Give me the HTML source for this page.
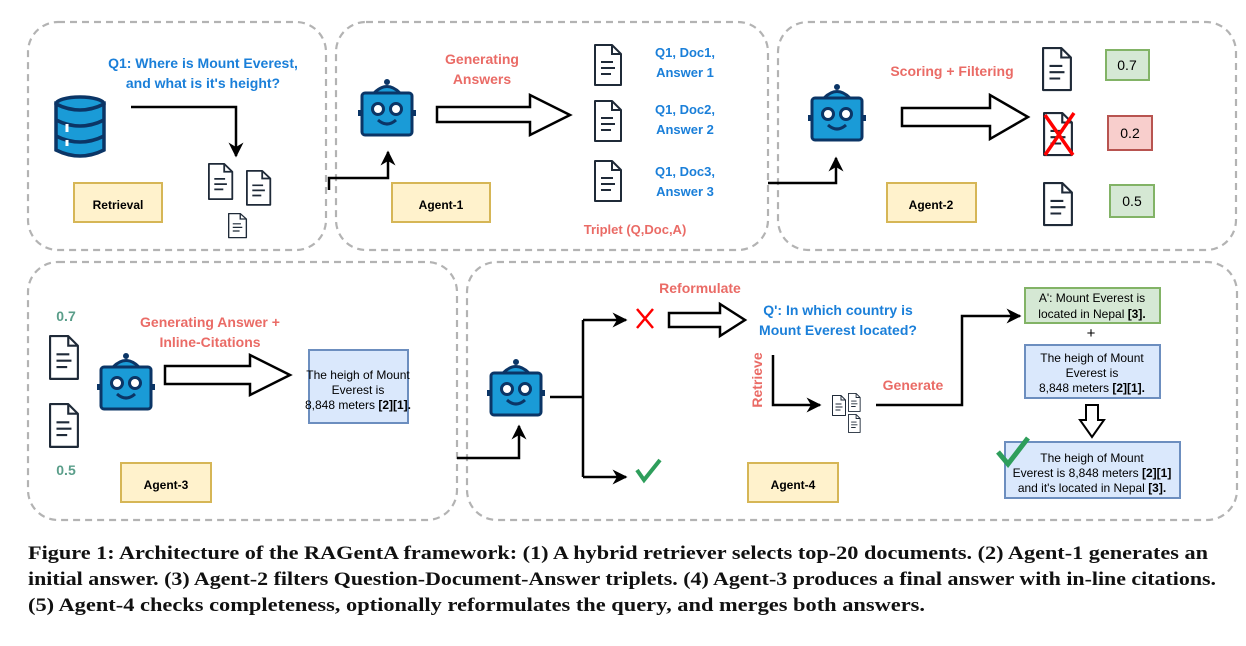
<!DOCTYPE html>
<html><head><meta charset="utf-8"><style>
html,body{margin:0;padding:0;background:#fff;}
svg{display:block;font-family:"Liberation Sans",Arial,sans-serif;}
.pan{fill:none;stroke:#b3b3b3;stroke-width:2.2;stroke-dasharray:7 5;}
.yb{fill:#fff2cc;stroke:#d6b656;stroke-width:2;}
.lb{font-size:12px;font-weight:bold;fill:#000;text-anchor:middle;}
.bl{font-size:14px;font-weight:bold;fill:#1a7fd9;text-anchor:middle;}
.rd{font-size:14px;font-weight:bold;fill:#ea6b66;text-anchor:middle;}
.ln{fill:none;stroke:#000;stroke-width:2.5;}
.ha{fill:#fff;stroke:#000;stroke-width:2.5;stroke-linejoin:miter;}
.tx{font-size:12px;fill:#000;text-anchor:middle;}
.cap{font-family:"Liberation Serif",serif;font-size:19px;font-weight:bold;fill:#111;}
</style></head><body>
<svg width="1246" height="646" viewBox="0 0 1246 646" xmlns="http://www.w3.org/2000/svg">
<defs>
<g id="robot">
<circle cx="29" cy="4" r="3" fill="#0b3566"/>
<path d="M16 15 Q29 2 42 15" fill="#1a9bd7" stroke="#0b3566" stroke-width="3"/>
<rect x="0" y="32" width="5" height="6" fill="#0b3566"/>
<rect x="53" y="32" width="5" height="6" fill="#0b3566"/>
<rect x="4" y="15" width="50" height="42" rx="3" fill="#1a9bd7" stroke="#0b3566" stroke-width="3"/>
<circle cx="20" cy="31" r="5.5" fill="#fff" stroke="#0b3566" stroke-width="3"/>
<circle cx="38" cy="31" r="5.5" fill="#fff" stroke="#0b3566" stroke-width="3"/>
<path d="M20 42 Q29 50 38 42" fill="none" stroke="#0b3566" stroke-width="3"/>
</g>
<g id="doc">
<path d="M1 1 H18 L27 10 V41 H1 Z" fill="#fff" stroke="#1f2a38" stroke-width="2" stroke-linejoin="round"/>
<path d="M18 1 V10 H27" fill="none" stroke="#1f2a38" stroke-width="2"/>
<path d="M7 18 H19 M7 24 H21 M7 30 H17" stroke="#1f2a38" stroke-width="2"/>
</g>
<marker id="ah" viewBox="0 0 10 10" refX="9" refY="5" markerWidth="6" markerHeight="6" orient="auto" markerUnits="strokeWidth">
<path d="M0 0 L10 5 L0 10 L3 5 Z" fill="#000"/>
</marker>
</defs>

<rect class="pan" x="28" y="22" width="298" height="228" rx="30"/>
<rect class="pan" x="336" y="22" width="432" height="228" rx="30"/>
<rect class="pan" x="778" y="22" width="458" height="228" rx="30"/>
<rect class="pan" x="28" y="262" width="429" height="258" rx="30"/>
<rect class="pan" x="467" y="262" width="770" height="258" rx="30"/>

<text class="bl" x="203" y="68">Q1: Where is Mount Everest,</text>
<text class="bl" x="203" y="88">and what is it's height?</text>
<g transform="translate(55,96)">
<ellipse cx="25" cy="8" rx="24" ry="7" fill="#1a9bd7" stroke="#0b3566" stroke-width="3.5"/>
<path d="M1 8 V54 Q25 66 49 54 V8 Q25 20 1 8 Z" fill="#1a9bd7" stroke="#0b3566" stroke-width="3.5"/>
<path d="M1 24 Q25 36 49 24 M1 40 Q25 52 49 40" fill="none" stroke="#0b3566" stroke-width="3.5"/>
<path d="M12 28 V36 M12 44 V50" stroke="#fff" stroke-width="3"/>
</g>
<path class="ln" d="M131 107 H236 V156" marker-end="url(#ah)"/>
<use href="#doc" transform="translate(208,163) scale(0.9,0.88)"/>
<use href="#doc" transform="translate(246,170) scale(0.9,0.85)"/>
<use href="#doc" transform="translate(228,213) scale(0.68,0.6)"/>
<rect class="yb" x="74" y="183" width="88" height="39"/>
<text class="lb" x="118" y="209">Retrieval</text>

<path class="ln" d="M329 190 V178 H388 V152" marker-end="url(#ah)"/>

<use href="#robot" transform="translate(358,78)"/>
<text class="rd" x="482" y="64">Generating</text>
<text class="rd" x="482" y="84">Answers</text>
<path class="ha" d="M437 107 H530 V95 L570 115 L530 135 V122 H437 Z"/>
<use href="#doc" transform="translate(594,44)"/>
<use href="#doc" transform="translate(594,100)"/>
<use href="#doc" transform="translate(594,160)"/>
<text class="bl" x="685" y="57" style="font-size:13px">Q1, Doc1,</text>
<text class="bl" x="685" y="77" style="font-size:13px">Answer 1</text>
<text class="bl" x="685" y="114" style="font-size:13px">Q1, Doc2,</text>
<text class="bl" x="685" y="134" style="font-size:13px">Answer 2</text>
<text class="bl" x="685" y="176" style="font-size:13px">Q1, Doc3,</text>
<text class="bl" x="685" y="196" style="font-size:13px">Answer 3</text>
<text class="rd" x="635" y="234" style="font-size:13px">Triplet (Q,Doc,A)</text>
<rect class="yb" x="392" y="183" width="98" height="39"/>
<text class="lb" x="441" y="209">Agent-1</text>

<path class="ln" d="M768 183 H836 V158" marker-end="url(#ah)"/>

<use href="#robot" transform="translate(808,83)"/>
<text class="rd" x="952" y="76">Scoring + Filtering</text>
<path class="ha" d="M902 108 H990 V95 L1028 117 L990 139 V126 H902 Z"/>
<use href="#doc" transform="translate(1042,47) scale(1.07,1.05)"/>
<use href="#doc" transform="translate(1043,112) scale(1.07,1.05)"/>
<path d="M1045 115 L1073 155 M1074 113 L1045 155" stroke="#f00" stroke-width="3.5"/>
<use href="#doc" transform="translate(1043,182) scale(1.07,1.05)"/>
<rect x="1106" y="50" width="43" height="30" fill="#d5e8d4" stroke="#82b366" stroke-width="2"/>
<text class="tx" x="1127" y="70" style="font-size:14px">0.7</text>
<rect x="1108" y="116" width="44" height="34" fill="#f8cecc" stroke="#b85450" stroke-width="2"/>
<text class="tx" x="1130" y="138" style="font-size:14px">0.2</text>
<rect x="1110" y="185" width="44" height="32" fill="#d5e8d4" stroke="#82b366" stroke-width="2"/>
<text class="tx" x="1132" y="206" style="font-size:14px">0.5</text>
<rect class="yb" x="887" y="183" width="89" height="39"/>
<text class="lb" x="931" y="209">Agent-2</text>

<text x="66" y="321" style="font-size:14px;font-weight:bold;fill:#5a9e8a" text-anchor="middle">0.7</text>
<use href="#doc" transform="translate(49,335) scale(1.07,1.07)"/>
<use href="#doc" transform="translate(49,403) scale(1.07,1.07)"/>
<text x="66" y="475" style="font-size:14px;font-weight:bold;fill:#5a9e8a" text-anchor="middle">0.5</text>
<text class="rd" x="210" y="327">Generating Answer +</text>
<text class="rd" x="210" y="347">Inline-Citations</text>
<use href="#robot" transform="translate(97,352)"/>
<path class="ha" d="M165 366 H250 V355 L290 375 L250 395 V384 H165 Z"/>
<rect x="309" y="350" width="99" height="73" fill="#dae8fc" stroke="#6c8ebf" stroke-width="2"/>
<text class="tx" x="358" y="379">The heigh of Mount</text>
<text class="tx" x="358" y="394">Everest is</text>
<text class="tx" x="358" y="409">8,848 meters <tspan font-weight="bold">[2][1].</tspan></text>
<rect class="yb" x="121" y="463" width="90" height="39"/>
<text class="lb" x="166" y="489">Agent-3</text>

<path class="ln" d="M457 458 H519 V426" marker-end="url(#ah)"/>

<use href="#robot" transform="translate(487,358)"/>
<path class="ln" d="M550 397 H583"/>
<path class="ln" d="M583 320 V477"/>
<path class="ln" d="M583 320 H626" marker-end="url(#ah)"/>
<path class="ln" d="M583 477 H626" marker-end="url(#ah)"/>
<path d="M637 309 L653 328 M653 309 L637 328" stroke="#f00" stroke-width="2.5"/>
<path d="M637 470 L644 480 L660 460" fill="none" stroke="#2e9e5b" stroke-width="4"/>
<text class="rd" x="700" y="293">Reformulate</text>
<path class="ha" d="M669 313 H720 V304 L745 320 L720 336 V327 H669 Z"/>
<text class="bl" x="838" y="315">Q': In which country is</text>
<text class="bl" x="838" y="335">Mount Everest located?</text>
<text class="rd" transform="translate(762,380) rotate(-90)">Retrieve</text>
<path class="ln" d="M773 355 V405 H820" marker-end="url(#ah)"/>
<use href="#doc" transform="translate(832,395) scale(0.5,0.5)"/>
<use href="#doc" transform="translate(848,393) scale(0.45,0.45)"/>
<use href="#doc" transform="translate(848,414) scale(0.45,0.45)"/>
<text class="rd" x="913" y="390">Generate</text>
<path class="ln" d="M876 405 H962 V316 H1020" marker-end="url(#ah)"/>
<rect x="1025" y="288" width="135" height="35" fill="#d5e8d4" stroke="#82b366" stroke-width="2"/>
<text class="tx" x="1092" y="302">A': Mount Everest is</text>
<text class="tx" x="1092" y="318">located in Nepal <tspan font-weight="bold">[3].</tspan></text>
<text class="tx" x="1091" y="338" style="font-size:15px">+</text>
<rect x="1025" y="345" width="135" height="53" fill="#dae8fc" stroke="#6c8ebf" stroke-width="2"/>
<text class="tx" x="1092" y="362">The heigh of Mount</text>
<text class="tx" x="1092" y="377">Everest is</text>
<text class="tx" x="1092" y="392">8,848 meters <tspan font-weight="bold">[2][1].</tspan></text>
<path class="ha" d="M1086 405 H1098 V420 H1104 L1092 437 L1080 420 H1086 Z" style="stroke-width:2"/>
<rect x="1005" y="442" width="175" height="56" fill="#dae8fc" stroke="#6c8ebf" stroke-width="2"/>
<text class="tx" x="1092" y="462">The heigh of Mount</text>
<text class="tx" x="1092" y="477">Everest is 8,848 meters <tspan font-weight="bold">[2][1]</tspan></text>
<text class="tx" x="1092" y="492">and it's located in Nepal <tspan font-weight="bold">[3].</tspan></text>
<path d="M998 452 L1008 464 L1028 438" fill="none" stroke="#2e9e5b" stroke-width="5"/>
<rect class="yb" x="748" y="463" width="90" height="39"/>
<text class="lb" x="793" y="489">Agent-4</text>

<text class="cap" x="28" y="559" textLength="1180" lengthAdjust="spacingAndGlyphs">Figure 1: Architecture of the RAGentA framework: (1) A hybrid retriever selects top-20 documents. (2) Agent-1 generates an</text>
<text class="cap" x="28" y="585" textLength="1188" lengthAdjust="spacingAndGlyphs">initial answer. (3) Agent-2 filters Question-Document-Answer triplets. (4) Agent-3 produces a final answer with in-line citations.</text>
<text class="cap" x="28" y="611" textLength="897" lengthAdjust="spacingAndGlyphs">(5) Agent-4 checks completeness, optionally reformulates the query, and merges both answers.</text>
</svg>
</body></html>
